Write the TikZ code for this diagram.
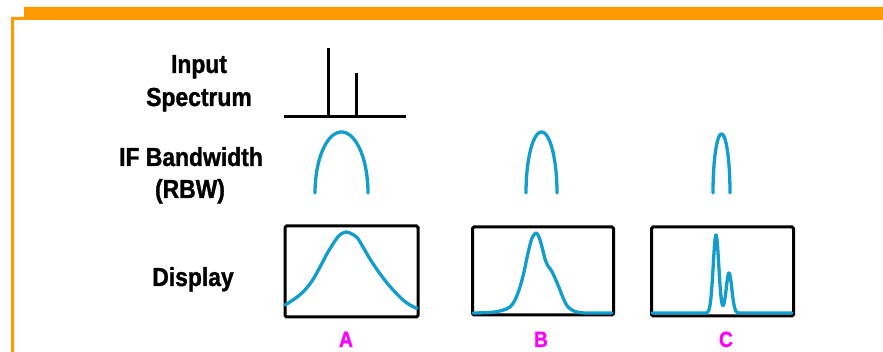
\documentclass[tikz,border=0pt]{standalone}
\usepackage{fontspec}
\newfontfamily\lblfont[FakeStretch=0.88, BoldFeatures={FakeBold=1.2}]{Liberation Sans}
\definecolor{frameorange}{RGB}{255,153,0}
\definecolor{traceblue}{RGB}{18,157,205}
\definecolor{labmag}{RGB}{255,0,255}
\begin{document}
\begin{tikzpicture}[x=1pt,y=-1pt,
  lbl/.style={font=\lblfont\bfseries\fontsize{26}{30}\selectfont, anchor=base, inner sep=0pt},
  letter/.style={font=\lblfont\bfseries\fontsize{22}{26}\selectfont, text=labmag, anchor=base, inner sep=0pt},
  trace/.style={draw=traceblue, line width=3.3pt, line cap=round, line join=round},
  specline/.style={draw=black, line width=3pt},
  dispbox/.style={draw=black, line width=3pt, rounded corners=1.5pt, inner sep=0pt, fill=none}]
\useasboundingbox (0,0) rectangle (883,352);
% orange frame
\fill[frameorange] (24,7) -- (883,7) -- (883,20) -- (14,20) -- (14,352) -- (11,352) -- (11,17) -- (24,17) -- cycle;
% row labels
\node[lbl] (input) at (199,73) {Input};
\node[lbl] (spectrum) at (199,106) {Spectrum};
\node[lbl] (ifbw) at (191,166) {IF Bandwidth};
\node[lbl] (rbw) at (190,198) {(RBW)};
\node[lbl] (display) at (193,286) {Display};
% input spectrum
\coordinate (axL) at (284,117);
\coordinate (axR) at (406,117);
\coordinate (s1b) at (328,117);
\coordinate (s1t) at (328,48);
\coordinate (s2b) at (356,117);
\coordinate (s2t) at (356,73);
\draw[specline] (axL) -- (axR);
\draw[specline] (s1b) -- (s1t);
\draw[specline] (s2b) -- (s2t);
% IF filter shapes
\draw[trace] plot[domain=-90:90, samples=60] ({341.5+26.5*sin(\x)}, {193-61*cos(\x)});
\draw[trace] plot[domain=-90:90, samples=60] ({541.5+15.5*sin(\x)}, {193-61*cos(\x)});
\draw[trace] plot[domain=-90:90, samples=60] ({721.5+8.5*sin(\x)}, {193-59*cos(\x)});
% display boxes
\node[dispbox, minimum width=133pt, minimum height=91pt] (boxA) at (351.5,271.5) {};
\node[dispbox, minimum width=141pt, minimum height=88pt] (boxB) at (543,271) {};
\node[dispbox, minimum width=142pt, minimum height=89pt] (boxC) at (722.5,271.5) {};
% traces
\draw[trace] plot[smooth, tension=0.55] coordinates {(285,305) (293,300) (303,292) (312,281) (320,267) (328,252) (337,238) (342,233.5) (346,232) (350,233) (357,237.5) (363,247) (370,259) (378,271) (387,283) (395,292) (403,300) (410,305) (417,308.5)};
\draw[trace] plot[smooth, tension=0.5] coordinates {(473,313) (490,312.5) (502,310.5) (510,307) (515,300) (520,287) (524,272) (528,253) (532,238) (536,233) (539,237) (542,247) (545,259) (548,266) (551,270) (555,278) (560,290) (564,300) (568,307) (575,311.5) (585,313) (612,313)};
\draw[trace] (652,313) -- (704,313) -- plot[domain=704:742, samples=160] (\x, {313 - 78*exp(-0.5*((\x-716)/2.8)^2) - 40*exp(-0.5*((\x-729)/2.8)^2)}) -- (792,313);
% labels
\node[letter] (labA) at (346,347) {A};
\node[letter] (labB) at (541,347) {B};
\node[letter] (labC) at (726,347) {C};
\end{tikzpicture}
\end{document}
